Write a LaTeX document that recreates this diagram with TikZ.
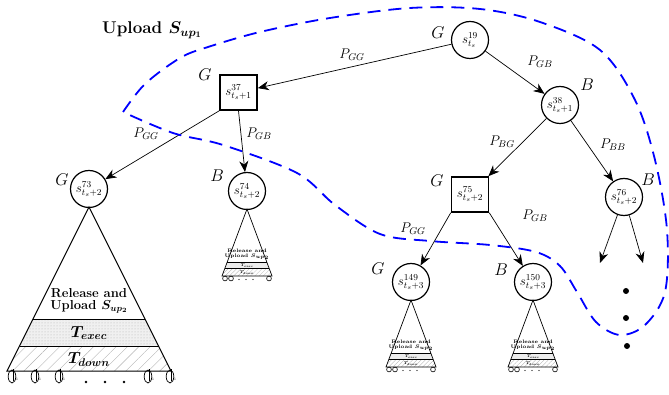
\RequirePackage{fix-cm}
\documentclass[tikz,border=0pt]{standalone}
\usetikzlibrary{arrows.meta,patterns,patterns.meta}
\newcommand\fs[1]{\fontsize{#1}{#1}\selectfont}
\newcommand\myloop[3]{% x, y(base), scale
  \draw[line width=0.7pt] (#1,#2+5.5*#3) ellipse ({3.8*#3} and {6.5*#3});
  \draw[line width=0.7pt] (#1+#3,#2-2*#3) -- (#1+#3,#2+10*#3);
  \node[font=\fs{3.5}] at (#1+5*#3,#2+8*#3) {1};}
\newcommand\smalltree[3]{% name, x, y of apex
  \begin{scope}[shift={(#2,#3)}]
    \fill[gray!15] (-19.8,53) -- (19.8,53) -- (22.2,59.5) -- (-22.2,59.5) -- cycle;
    \fill[pattern={Lines[angle=45,distance=3pt,line width=0.3pt]},pattern color=gray!60] (-22.2,59.5) -- (22.2,59.5) -- (25,67) -- (-25,67) -- cycle;
    \draw[line width=0.7pt] (0,0) -- (-25,67) -- (25,67) -- cycle;
    \draw[line width=0.6pt] (-19.8,53) -- (19.8,53) (-22.2,59.5) -- (22.2,59.5);
    \node[align=center,font=\fs{5}\bfseries\boldmath] (#1r) at (0,45.5) {Release and\\[-0.8pt]Upload $S_{up_2}$};
    \node[font=\fs{4}\boldmath] (#1e) at (0,56.4) {$T_{exec}$};
    \node[font=\fs{4}\boldmath] (#1d) at (0,63.4) {$T_{down}$};
    \foreach \xx in {-22,-16,22} {
      \draw[line width=0.6pt] (\xx,69.5) circle (2.4);}
    \foreach \xx in {-8,-1,6} {\fill (\xx,70.5) circle (0.6);}
  \end{scope}}
\begin{document}
\begin{tikzpicture}[x=1pt,y=-1pt,
  circ/.style={circle,draw,line width=1.2pt,minimum size=37pt,inner sep=0pt,font=\fs{13}},
  sq/.style={rectangle,draw,line width=1.6pt,minimum width=37pt,minimum height=35pt,inner sep=0pt,font=\fs{13}},
  lab/.style={font=\fs{17}},
  plab/.style={font=\fs{14}},
  arr/.style={-{Stealth[length=11pt,width=9pt,inset=3.5pt]},line width=0.7pt},
  region/.style={draw=blue,line width=1.8pt,dash pattern=on 13pt off 8pt}]
\useasboundingbox (0,0) rectangle (669,395);

% nodes
\node[circ] (s19) at (470,40) {$s^{19}_{t_s}$};
\node[sq] (s37) at (238.5,92.5) {$s^{37}_{t_s+1}$};
\node[circ] (s38) at (560,105) {$s^{38}_{t_s+1}$};
\node[circ] (s73) at (89,189) {$s^{73}_{t_s+2}$};
\node[circ] (s74) at (247,191) {$s^{74}_{t_s+2}$};
\node[sq] (s75) at (470,194.5) {$s^{75}_{t_s+2}$};
\node[circ] (s76) at (624,197) {$s^{76}_{t_s+2}$};
\node[circ] (s149) at (411,282) {$s^{149}_{t_s+3}$};
\node[circ] (s150) at (533,282) {$s^{150}_{t_s+3}$};

% state labels
\node[lab] (l19) at (438,33) {$G$};
\node[lab] (l37) at (205,75) {$G$};
\node[lab] (l38) at (587,85) {$B$};
\node[lab] (l73) at (62,180) {$G$};
\node[lab] (l74) at (217,176) {$B$};
\node[lab] (l75) at (437,181) {$G$};
\node[lab] (l76) at (648,180) {$B$};
\node[lab] (l149) at (378,269) {$G$};
\node[lab] (l150) at (501,270) {$B$};

% edges
\draw[arr] (s19) -- (s37);
\draw[arr] (s19) -- (s38);
\draw[arr] (s37.south west) -- (s73);
\draw[arr] (s37.south) -- (s74);
\draw[arr] (s38) -- (s75);
\draw[arr] (s38) -- (s76);
\draw[arr] (s75.south west) -- (s149);
\draw[arr] (s75.south east) -- (s150);
\coordinate (e1) at (600,263);
\coordinate (e2) at (643,263);
\draw[arr] (s76) -- (e1);
\draw[arr] (s76) -- (e2);

% edge labels
\node[plab] (p1) at (352,55) {$P_{GG}$};
\node[plab] (p2) at (540,62) {$P_{GB}$};
\node[plab] (p3) at (146,134) {$P_{GG}$};
\node[plab] (p4) at (259,134) {$P_{GB}$};
\node[plab] (p5) at (502,142) {$P_{BG}$};
\node[plab] (p6) at (613,145) {$P_{BB}$};
\node[plab] (p7) at (413,229) {$P_{GG}$};
\node[plab] (p8) at (535,216) {$P_{GB}$};

% vertical dots
\fill (626,291) circle (3);
\fill (626,318) circle (3);
\fill (627,346) circle (3);

% big subtree
\begin{scope}[shift={(89,207)}]
  \fill[gray!12] (-56,112) -- (56,112) -- (69.5,139) -- (-69.5,139) -- cycle;
  \fill[pattern=dots,pattern color=gray!60] (-56,112) -- (56,112) -- (69.5,139) -- (-69.5,139) -- cycle;
  \fill[pattern={Lines[angle=45,distance=8pt,line width=0.4pt]},pattern color=gray!60] (-69.5,139) -- (69.5,139) -- (82,164) -- (-82,164) -- cycle;
  \draw[line width=1pt] (0,0) -- (-82,164) -- (82,164) -- cycle;
  \draw[line width=1pt] (-56,112) -- (56,112) (-69.5,139) -- (69.5,139);
  \node[align=center,font=\fs{13}\bfseries\boldmath] (bigr) at (0,94) {Release and\\[-1pt]Upload $S_{up_2}$};
  \node[font=\fs{16}\boldmath] (bige) at (0,126) {$T_{exec}$};
  \node[font=\fs{16}\boldmath] (bigd) at (0,152.5) {$T_{down}$};
  \foreach \xx in {-77,-54,-30,59,81} {\myloop{\xx}{164}{1}}
  \foreach \xx in {-3,16,35} {\fill (\xx,175) circle (1.3);}
\end{scope}

% small subtrees
\smalltree{ta}{247}{209}
\smalltree{tb}{411}{300}
\smalltree{tc}{533}{300}

% dashed region
\draw[region] plot[smooth,tension=0.55] coordinates {
 (123,112) (145,84) (180,58) (208,47) (260,32) (330,18) (410,8) (480,9) (540,22)
 (600,50) (635,100) (655,160) (667,230) (665,292) (645,325) (620,335) (596,322)
 (577,292) (560,266) (536,252) (490,245) (430,241) (380,234) (335,205) (297,173)
 (223,145) (173,133) (123,112)};

% title
\node[font=\fs{17}\bfseries\boldmath] (title) at (152,30) {Upload $S_{up_1}$};
\end{tikzpicture}
\end{document}
